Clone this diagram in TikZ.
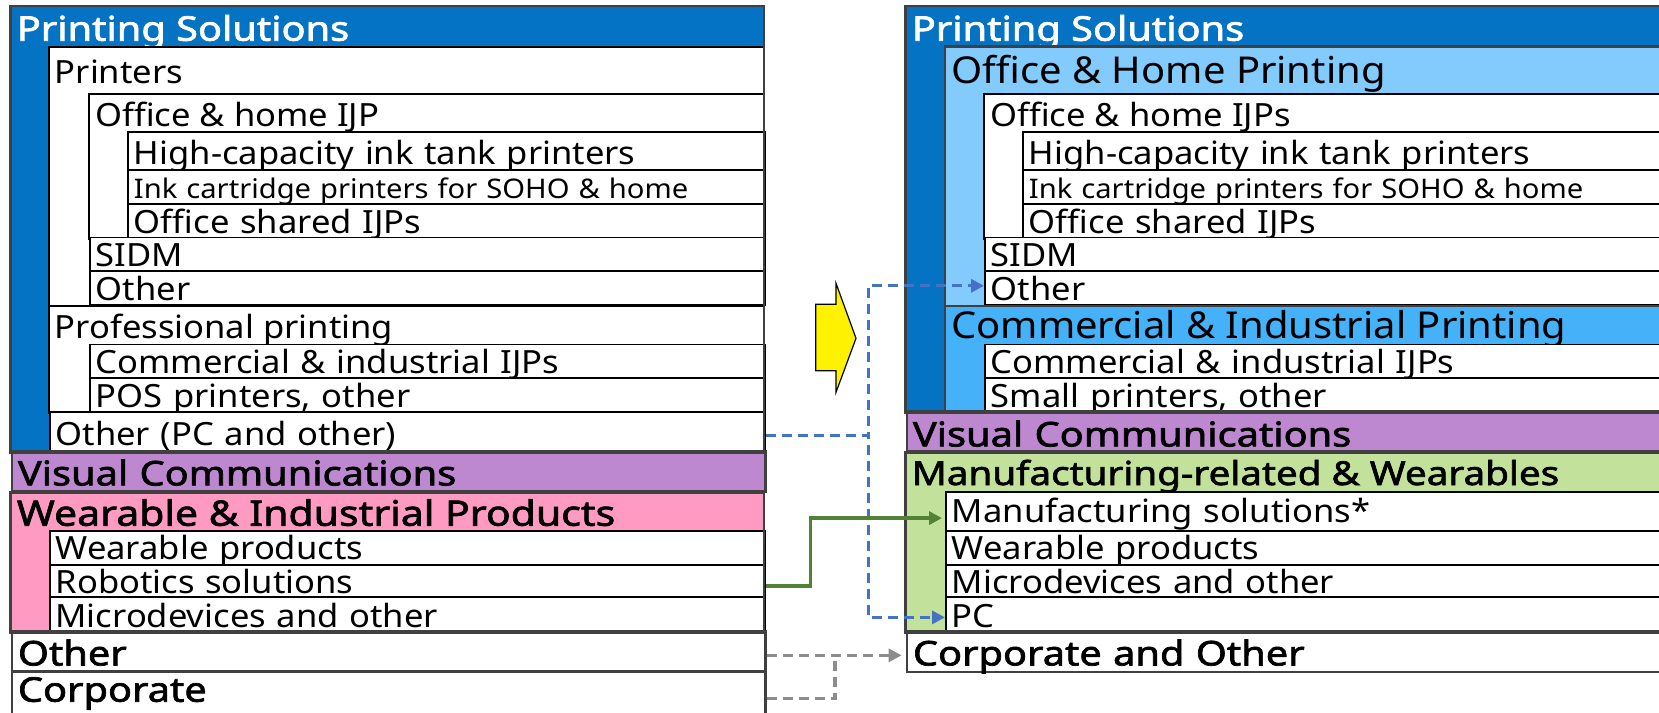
\documentclass[tikz,border=0pt]{standalone}
\usepackage{fontspec}
\setmainfont{Noto Sans}[FakeStretch=1.08]
\newfontfamily\headfont{Noto Sans}[FakeStretch=1.17, FakeBold=2]
\usetikzlibrary{arrows.meta}

\definecolor{psblue}{HTML}{0573C3}
\definecolor{ohblue}{HTML}{83CBFC}
\definecolor{cipblue}{HTML}{45B1F8}
\definecolor{vcpurple}{HTML}{BD88CF}
\definecolor{wipink}{HTML}{FF9BC2}
\definecolor{mrgreen}{HTML}{C2E29B}
\definecolor{edgegray}{HTML}{404040}
\definecolor{dashblue}{HTML}{4472C4}
\definecolor{linegreen}{HTML}{548235}
\definecolor{dashgray}{HTML}{8C8C8C}

\tikzset{
  sec/.style={draw=edgegray, line width=2.6pt},
  blk/.style={draw=black, line width=1.8pt, fill=white},
  cell/.style={draw=black, line width=1.8pt, fill=white, anchor=south west,
    inner ysep=0pt, inner xsep=6pt, align=left, text depth=5pt, text height=28.7pt,
    font=\fontsize{32}{38}\selectfont},
  seccell/.style={cell, draw=edgegray, line width=2.6pt, text depth=6pt, text height=33.7pt,
    font=\headfont\fontsize{34}{38}\selectfont},
  head/.style={anchor=base west, inner sep=0pt, font=\headfont\fontsize{34}{38}\selectfont},
  sub/.style={anchor=base west, inner sep=0pt, font=\fontsize{32}{38}\selectfont},
  big/.style={anchor=base west, inner sep=0pt, font=\fontsize{37}{40}\selectfont},
  small/.style={font=\fontsize{27}{32}\selectfont},
  L0/.style={text width=741.4pt}, L1/.style={text width=703.3pt},
  L2/.style={text width=663.1pt}, L3/.style={text width=625pt},
  R0/.style={text width=762.4pt}, R1/.style={text width=723pt},
  R2/.style={text width=684pt}, R3/.style={text width=646pt},
  conn/.style={line width=3.3pt, -{Triangle[length=13pt,width=13pt]}},
  dashconn/.style={conn, dash pattern=on 10pt off 6pt}
}

\begin{document}
\begin{tikzpicture}[x=1pt, y=-1pt]
\useasboundingbox (0,0) rectangle (1659,712);
\clip (0,0) rectangle (1659,712);
\fill[white] (0,0) rectangle (1659,712);

% old segments
\fill[psblue] (10.6,6) rectangle (764,452.7);
\node[head, white] (lPS) at (16.6,40.7) {Printing Solutions};
\draw[blk] (48.7,46.7) rectangle (764,306);
\node[sub] (lPrn) at (54.7,83.3) {Printers};
\draw[blk] (88.9,94) rectangle (764,238.7);
\node[sub] (lOhi) at (94.9,126.7) {Office \& home IJP};
\node[cell, L3, text depth=5.3pt, text height=33pt] (lHigh) at (127,171) {High-capacity ink tank printers};
\node[cell, L3, small, text depth=5.7pt, text height=28.3pt] (lInk) at (127,205) {Ink cartridge printers for SOHO \& home};
\node[cell, L3, text depth=4.4pt, text height=29.3pt] (lShared) at (127,238.7) {Office shared IJPs};
\node[cell, L2] (lSidm) at (88.9,272) {SIDM};
\node[cell, L2, text depth=4.3pt, text height=29.7pt] (lOthPrn) at (88.9,306) {Other};
\draw[blk] (48.7,306) rectangle (764,413);
\node[sub] (lPro) at (54.7,338) {Professional printing};
\node[cell, L2] (lCom) at (88.9,379) {Commercial \& industrial IJPs};
\node[cell, L2, text depth=4.7pt, text height=29.3pt] (lPos) at (88.9,413) {POS printers, other};
\node[cell, L1, text depth=6.7pt, text height=33pt] (lOthPC) at (48.7,452.7) {Other (PC and other)};
\node[seccell, L0, fill=vcpurple] (lVC) at (10.6,492.7) {Visual Communications};
\fill[wipink] (10.6,492.7) rectangle (764,633);
\node[head, font=\headfont\fontsize{35}{38}\selectfont] (lWIP) at (16.6,525.7) {Wearable \& Industrial Products};
\node[cell, L1, text height=29pt] (lWear) at (48.7,565.7) {Wearable products};
\node[cell, L1, text depth=4pt, text height=28.3pt] (lRob) at (48.7,598) {Robotics solutions};
\node[cell, L1, text depth=4.7pt, text height=30.3pt] (lMicro) at (48.7,633) {Microdevices and other};
\node[seccell, L0] (lOther) at (10.6,672.7) {Other};
\node[seccell, L0, text depth=13pt, text height=30.3pt] (lCorp) at (10.6,716) {Corporate};
\draw[sec] (10.6,6) rectangle (764,452.7);
\draw[sec] (10.6,492.7) rectangle (764,633);

% new segments
\fill[psblue] (905.6,6) rectangle (1680,413);
\node[head, white] (rPS) at (911.6,40.7) {Printing Solutions};
\draw[sec, fill=ohblue] (945,46.7) rectangle (1680,306);
\node[big] (rOHP) at (951,83.3) {Office \& Home Printing};
\draw[blk] (984,94) rectangle (1680,238.7);
\node[sub] (rIjp) at (990,126.7) {Office \& home IJPs};
\node[cell, R3, text depth=5.3pt, text height=33pt] (rHigh) at (1022,171) {High-capacity ink tank printers};
\node[cell, R3, small, text depth=5.7pt, text height=28.3pt] (rInk) at (1022,205) {Ink cartridge printers for SOHO \& home};
\node[cell, R3, text depth=4.4pt, text height=29.3pt] (rShared) at (1022,238.7) {Office shared IJPs};
\node[cell, R2] (rSidm) at (984,272) {SIDM};
\node[cell, R2, text depth=4.3pt, text height=29.7pt] (rOther) at (984,306) {Other};
\draw[sec, fill=cipblue] (945,306) rectangle (1680,413);
\node[big] (rCIP) at (951,338.3) {Commercial \& Industrial Printing};
\node[cell, R2] (rCom) at (984,379) {Commercial \& industrial IJPs};
\node[cell, R2, text depth=4.7pt, text height=29.3pt] (rSmall) at (984,413) {Small printers, other};
\node[seccell, R0, fill=vcpurple, text depth=5pt, text height=34.7pt] (rVC) at (905.6,452.7) {Visual Communications};
\fill[mrgreen] (905.6,452.7) rectangle (1680,633);
\node[head, font=\headfont\fontsize{33}{38}\selectfont] (rMRW) at (911.6,485) {Manufacturing-related \& Wearables};
\node[cell, R1, text depth=8.4pt, text height=30.6pt] (rMfg) at (945,531.7) {Manufacturing solutions*};
\node[cell, R1, text height=29pt] (rWear) at (945,565.7) {Wearable products};
\node[cell, R1, text depth=4pt, text height=28.3pt] (rMicro) at (945,598) {Microdevices and other};
\node[cell, R1, text depth=4.7pt, text height=30.3pt] (rPC) at (945,633) {PC};
\node[seccell, R0, text depth=6.6pt, text height=33.7pt] (rCorp) at (905.6,673.3) {Corporate and Other};
\draw[sec] (905.6,6) rectangle (1680,413);
\draw[sec] (905.6,452.7) rectangle (1680,633);

% yellow arrow
\draw[line width=1.2pt, fill=yellow] (815.7,304.3) -- (836,304.3) -- (836,283.3) -- (856,338.3)
  -- (836,392.3) -- (836,370.7) -- (815.7,370.7) -- cycle;

% moves
\draw[dashconn, dashblue] ([yshift=-3.8pt]lOthPC.east) -- ++(102.7,0) |- ([yshift=2.3pt]rOther.west);
\draw[dashconn, dashblue] ([yshift=-3.8pt]lOthPC.east) -- ++(102.7,0) |- ([yshift=-2.8pt]rPC.west);
\draw[conn, linegreen] ([yshift=-4.9pt]lRob.east) -- ++(45,0) |- ([yshift=-6.8pt, xshift=-3pt]rMfg.west);
\draw[dashconn, dashgray, shorten >=4pt] ([yshift=-3.8pt]lOther.east) -- ([yshift=-3.8pt]lOther.east -| rCorp.west);
\draw[dashconn, dashgray, -] ([yshift=-5.6pt]lCorp.east) -- ++(68.3,0) -- ++(0,-43.3);
\end{tikzpicture}
\end{document}
